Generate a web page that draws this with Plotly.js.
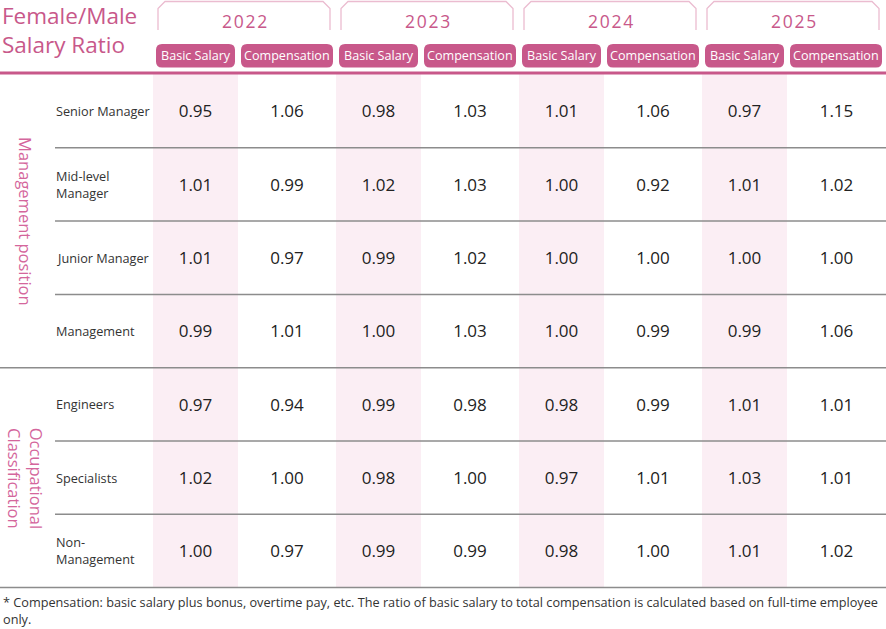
<!DOCTYPE html>
<html>
<head>
<meta charset="utf-8">
<script src="https://cdn.plot.ly/plotly-3.0.1.min.js"></script>
<style>html,body{margin:0;padding:0;background:#fff;}#chart{width:886px;height:629px;}</style>
</head>
<body>
<div id="chart"></div>
<script>
// ---- data ----
var years = ["2022", "2023", "2024", "2025"];
var subColumns = ["Basic Salary", "Compensation"];
var rowLabels = ["Senior Manager", "Mid-level<br>Manager", "Junior Manager", "Management", "Engineers", "Specialists", "Non-<br>Management"];
var groupLabels = ["Management position", "Occupational<br>Classification"];
var groupSizes = [4, 3];
var basic2022 = [0.95, 1.01, 1.01, 0.99, 0.97, 1.02, 1.00];
var comp2022  = [1.06, 0.99, 0.97, 1.01, 0.94, 1.00, 0.97];
var basic2023 = [0.98, 1.02, 0.99, 1.00, 0.99, 0.98, 0.99];
var comp2023  = [1.03, 1.03, 1.02, 1.03, 0.98, 1.00, 0.99];
var basic2024 = [1.01, 1.00, 1.00, 1.00, 0.98, 0.97, 0.98];
var comp2024  = [1.06, 0.92, 1.00, 0.99, 0.99, 1.01, 1.00];
var basic2025 = [0.97, 1.01, 1.00, 0.99, 1.01, 1.03, 1.01];
var comp2025  = [1.15, 1.02, 1.00, 1.06, 1.01, 1.01, 1.02];
var titleText = "Female/Male<br>Salary Ratio";
var footnote = "* Compensation: basic salary plus bonus, overtime pay, etc. The ratio of basic salary to total compensation is calculated based on full-time employee<br>only.";

var seriesByYear = [[basic2022, comp2022], [basic2023, comp2023], [basic2024, comp2024], [basic2025, comp2025]];

// ---- layout geometry ----
var W = 886, H = 629;
var PINK = "#c8588a", LIGHTPINK = "#ebbcd0", SHADE = "#fbeef4", GRID = "#8c8c8c";
var FONT = "Open Sans, Lato, sans-serif";
var tableLeft = 153, yearPitch = 183, basicW = 85;
var headerLine = 73, rowTop = 74.5, rowH = 73.3;
var labelX = 55;
var valueNudge = 2;

function colEdges(yi, ci) {
  var s = tableLeft + yi * yearPitch;
  if (ci === 0) return [s, s + basicW];
  var e = (yi === years.length - 1) ? W : s + yearPitch;
  return [s + basicW, e];
}

var shapes = [], annotations = [];
var nRows = rowLabels.length;
var tableBottom = rowTop + nRows * rowH;

// shaded Basic Salary columns
years.forEach(function (y, yi) {
  var e = colEdges(yi, 0);
  shapes.push({type: "rect", xref: "x", yref: "y", x0: e[0], x1: e[1], y0: headerLine + 1, y1: tableBottom,
    fillcolor: SHADE, line: {width: 0}, layer: "below"});
});

// year brackets
years.forEach(function (y, yi) {
  var s = tableLeft + yi * yearPitch;
  var x0 = s + 5, x1 = s + 177, top = 1.5, bot = 30, c = 7;
  shapes.push({type: "path", xref: "x", yref: "y",
    path: "M" + x0 + "," + bot + " L" + x0 + "," + (top + c) + " L" + (x0 + c) + "," + top +
          " L" + (x1 - c) + "," + top + " L" + x1 + "," + (top + c) + " L" + x1 + "," + bot,
    line: {color: LIGHTPINK, width: 1.3}});
  annotations.push({x: (x0 + x1) / 2, y: 20.5, xref: "x", yref: "y", text: y.split("").join("\u200A"), showarrow: false,
    font: {family: FONT, size: 17.5, color: PINK}, xanchor: "center", yanchor: "middle"});
});

// pills
function roundRect(x0, y0, x1, y1, r) {
  return "M" + (x0 + r) + "," + y0 + " L" + (x1 - r) + "," + y0 + " Q" + x1 + "," + y0 + " " + x1 + "," + (y0 + r) +
    " L" + x1 + "," + (y1 - r) + " Q" + x1 + "," + y1 + " " + (x1 - r) + "," + y1 +
    " L" + (x0 + r) + "," + y1 + " Q" + x0 + "," + y1 + " " + x0 + "," + (y1 - r) +
    " L" + x0 + "," + (y0 + r) + " Q" + x0 + "," + y0 + " " + (x0 + r) + "," + y0 + " Z";
}
years.forEach(function (y, yi) {
  var s = tableLeft + yi * yearPitch;
  var pills = [[s + 3, s + 82], [s + 88, s + 180]];
  subColumns.forEach(function (lab, ci) {
    var p = pills[ci];
    shapes.push({type: "path", xref: "x", yref: "y", path: roundRect(p[0], 44, p[1], 67.5, 6),
      fillcolor: PINK, line: {width: 0}});
    annotations.push({x: (p[0] + p[1]) / 2, y: 55.5, xref: "x", yref: "y", text: lab, showarrow: false,
      font: {family: FONT, size: 12.6, color: "#ffffff"}, xanchor: "center", yanchor: "middle"});
  });
});

// header thick line
shapes.push({type: "line", xref: "x", yref: "y", x0: 0, x1: W, y0: headerLine, y1: headerLine,
  line: {color: PINK, width: 3}});

// row lines
var groupEnds = [];
var acc = 0;
groupSizes.forEach(function (g) { acc += g; groupEnds.push(acc); });
for (var r = 1; r <= nRows; r++) {
  var yy = rowTop + r * rowH;
  var full = groupEnds.indexOf(r) >= 0;
  shapes.push({type: "line", xref: "x", yref: "y", x0: full ? 0 : labelX, x1: W, y0: yy, y1: yy,
    line: {color: GRID, width: 1.5}});
}

// row labels
rowLabels.forEach(function (lab, ri) {
  annotations.push({x: labelX - 1, y: rowTop + (ri + 0.5) * rowH, xref: "x", yref: "y", text: lab, showarrow: false,
    font: {family: FONT, size: 12.7, color: "#333333"}, xanchor: "left", yanchor: "middle", align: "left"});
});

// group labels (vertical)
var start = 0;
groupLabels.forEach(function (g, gi) {
  var mid = rowTop + (start + groupSizes[gi] / 2) * rowH;
  annotations.push({x: 26, y: mid, xref: "x", yref: "y", text: g, showarrow: false, textangle: 90,
    font: {family: FONT, size: 16.5, color: "#d4669c"}, xanchor: "center", yanchor: "middle", align: "center"});
  start += groupSizes[gi];
});

// values as text traces
var traces = [];
years.forEach(function (y, yi) {
  subColumns.forEach(function (lab, ci) {
    var e = colEdges(yi, ci);
    var vals = seriesByYear[yi][ci];
    traces.push({type: "scatter", mode: "text", hoverinfo: "skip", showlegend: false,
      x: vals.map(function () { return (e[0] + e[1]) / 2; }),
      y: vals.map(function (v, ri) { return rowTop + (ri + 0.5) * rowH + valueNudge; }),
      text: vals.map(function (v) { return v.toFixed(2); }),
      textposition: "middle center",
      textfont: {family: FONT, size: 17, color: "#222222"}});
  });
});

// title & footnote
annotations.push({x: 0, y: 30, xref: "x", yref: "y", text: titleText, showarrow: false, xanchor: "left", yanchor: "middle",
  align: "left", font: {family: FONT, size: 22.5, color: PINK}});
annotations.push({x: 1, y: 610.5, xref: "x", yref: "y", text: footnote, showarrow: false, xanchor: "left", yanchor: "middle",
  align: "left", font: {family: FONT, size: 12.7, color: "#333333"}});

var layout = {
  width: W, height: H, margin: {l: 0, r: 0, t: 0, b: 0},
  paper_bgcolor: "#ffffff", plot_bgcolor: "#ffffff",
  xaxis: {range: [0, W], visible: false, fixedrange: true},
  yaxis: {range: [H, 0], visible: false, fixedrange: true},
  shapes: shapes, annotations: annotations, showlegend: false
};
Plotly.newPlot("chart", traces, layout, {displayModeBar: false, staticPlot: true});
</script>
</body>
</html>
